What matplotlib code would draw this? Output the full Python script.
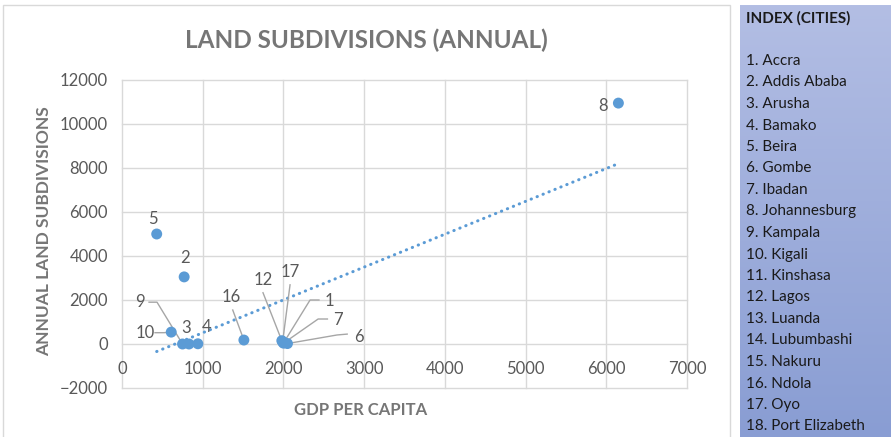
import numpy as np
import matplotlib
matplotlib.use("Agg")
import matplotlib.pyplot as plt
from matplotlib.patches import Rectangle

W, H = 891, 437
plt.rcParams['font.family'] = ['Lato', 'DejaVu Sans']

# ---- data ----
cities = ["Accra", "Addis Ababa", "Arusha", "Bamako", "Beira", "Gombe", "Ibadan",
          "Johannesburg", "Kampala", "Kigali", "Kinshasa", "Lagos", "Luanda",
          "Lubumbashi", "Nakuru", "Ndola", "Oyo", "Port Elizabeth"]
point_ids = [1, 2, 3, 4, 5, 6, 7, 8, 9, 10, 12, 16, 17]
gdp_per_capita = [2000, 770, 830, 940, 430, 2050, 2010, 6150, 750, 610, 1980, 1510, 1990]
annual_subdivisions = [40, 3050, 0, 10, 5000, 20, 60, 10950, 0, 540, 150, 180, 100]
x_ticks = [0, 1000, 2000, 3000, 4000, 5000, 6000, 7000]
y_ticks = [-2000, 0, 2000, 4000, 6000, 8000, 10000, 12000]

# label placement (data coordinates): text centre and leader-line bend points
label_layout = {
    1: dict(text=(2575, 1950), path=[(2440, 2000), (2330, 2000)]),
    2: dict(text=(780, 3900), path=None),
    3: dict(text=(800, 730), path=None),
    4: dict(text=(1050, 770), path=None),
    5: dict(text=(384, 5680), path=None),
    6: dict(text=(2930, 330), path=[(2790, 450), (2664, 410)]),
    7: dict(text=(2670, 1100), path=[(2545, 1136), (2430, 1136)]),
    8: dict(text=(5960, 10800), path=None),
    9: dict(text=(223, 1900), path=[(335, 1900), (434, 1900)]),
    10: dict(text=(285, 500), path=[(409, 514), (520, 514)]),
    12: dict(text=(1747, 2900), path=[(1747, 2330)]),
    16: dict(text=(1359, 2150), path=[(1372, 1545)]),
    17: dict(text=(2082, 3270), path=[(2082, 2690)]),
}

BLUE = '#5b9bd5'
TICK_GREY = '#595959'
TITLE_GREY = '#767676'

fig = plt.figure(figsize=(W / 100, H / 100), dpi=100)
fig.patch.set_facecolor('white')

# chart-area frame
fig.patches.append(Rectangle((3 / W, -0.02), (730 - 3) / W, 1 - 5 / H + 0.02,
                             transform=fig.transFigure, fill=False,
                             ec='#d9d9d9', lw=1))

ax = fig.add_axes([122 / W, 1 - 388 / H, (687 - 122) / W, (388 - 80) / H])
ax.set_xlim(0, 7000)
ax.set_ylim(-2000, 12000)
ax.set_xticks(x_ticks)
ax.set_yticks(y_ticks)
ax.grid(True, color='#d9d9d9', lw=1)
ax.set_axisbelow(True)
for s in ax.spines.values():
    s.set_visible(False)
ax.spines['bottom'].set_position(('data', 0))
ax.tick_params(length=0, labelsize=12, labelcolor=TICK_GREY)
ax.tick_params(axis='x', pad=12)
ax.tick_params(axis='y', pad=10)
for gl in ax.get_xgridlines() + ax.get_ygridlines():
    gl.set_clip_on(False)

# linear trendline
coef = np.polyfit(gdp_per_capita, annual_subdivisions, 1)
xs = np.array([min(gdp_per_capita), max(gdp_per_capita)])
ax.plot(xs, np.polyval(coef, xs), color=BLUE, lw=2.2,
        ls=(0, (0.1, 2.0)), dash_capstyle='round', zorder=2)

# points
ax.scatter(gdp_per_capita, annual_subdivisions, s=62, color=BLUE,
           edgecolors='none', zorder=3)

# data labels and leader lines
for pid, gx, gy in zip(point_ids, gdp_per_capita, annual_subdivisions):
    lay = label_layout[pid]
    tx, ty = lay['text']
    ax.text(tx, ty, str(pid), ha='center', va='center', fontsize=12,
            color=TICK_GREY, zorder=4)
    if lay['path']:
        pts = lay['path'] + [(gx, gy)]
        ax.plot([p[0] for p in pts], [p[1] for p in pts], color='#a6a6a6',
                lw=1, zorder=2.5)

# titles
fig.text(366 / W, 1 - 40 / H, 'LAND SUBDIVISIONS (ANNUAL)', ha='center',
         va='center', fontsize=17.5, fontweight='bold', color=TITLE_GREY)
fig.text(361 / W, 1 - 410 / H, 'GDP PER CAPITA', ha='center', va='center',
         fontsize=12, fontweight='bold', color=TITLE_GREY)
fig.text(44 / W, 1 - 231 / H, 'ANNUAL LAND SUBDIVISIONS', ha='center',
         va='center', rotation=90, fontsize=12.5, fontweight='bold',
         color=TITLE_GREY)

# index panel with vertical gradient
pax = fig.add_axes([740 / W, 0, (W - 740) / W, 1 - 5 / H])
top = np.array([0xb3, 0xbe, 0xe4]) / 255
bottom = np.array([0x89, 0x9d, 0xd3]) / 255
t = np.linspace(0, 1, 256)[:, None]
grad = (top[None, :] * (1 - t) + bottom[None, :] * t)[:, None, :]
pax.imshow(grad, aspect='auto', extent=[0, 1, 0, 1], origin='upper')
pax.set_axis_off()

fig.text(746 / W, 1 - 18 / H, 'INDEX (CITIES)', ha='left', va='center',
         fontsize=11, fontweight='bold', color='#1a1a1a')
for i, name in enumerate(cities):
    fig.text(746 / W, 1 - (61 + 21.5 * i) / H, f'{i + 1}. {name}', ha='left',
             va='center', fontsize=11, color='#1a1a1a')

fig.savefig('out.png', dpi=100)
